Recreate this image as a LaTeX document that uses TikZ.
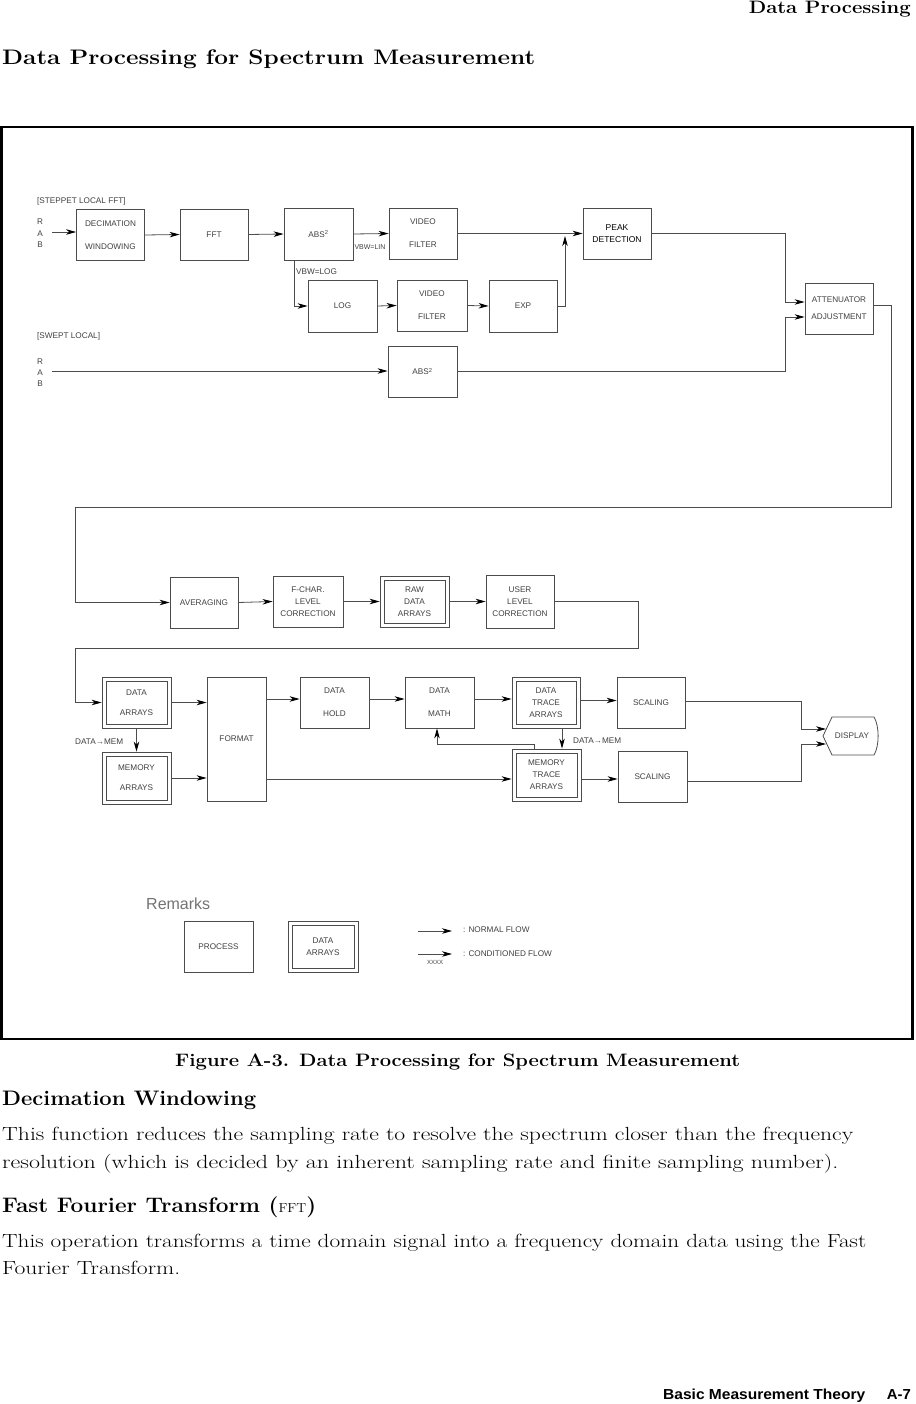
\documentclass[tikz,border=0pt]{standalone}
\usepackage{fontspec}
\usepackage{graphicx}
\newfontfamily\diagfont{Liberation Sans}
\usetikzlibrary{arrows.meta}
\newcommand\fitw[2]{\resizebox{#1}{\height}{#2}}
\newcommand\dblbox[4][]{%
  \node[pbox,#1] (#2) at (#3) {#4};
  \draw[ln] ([xshift=4.5pt,yshift=-4.5pt]#2.north west) rectangle ([xshift=-4.5pt,yshift=4.5pt]#2.south east);}
\begin{document}
\begin{tikzpicture}[x=1pt,y=-1pt,
  ln/.style={draw=black!70, line width=0.8pt},
  arr/.style={ln, -{Stealth[length=10pt,width=5.5pt,inset=3pt,color=black]}},
  lbl/.style={inner sep=0pt, font=\diagfont\fontsize{8.2}{12}\selectfont, text=black!75},
  pbox/.style={draw=black!70, line width=0.8pt, minimum width=68pt, minimum height=51pt,
    inner sep=0pt, align=center, font=\diagfont\fontsize{8.2}{12}\selectfont, text=black!75},
  txt/.style={anchor=base west, inner sep=0pt}
]
\useasboundingbox (0,0) rectangle (915,1404);

% ---------- page texts ----------
\node[anchor=base east, inner sep=0pt] (hdr) at (911,14) {\fitw{162pt}{\fontsize{18}{20}\selectfont\bfseries Data Processing}};
\node[txt] (title) at (2,65) {\fitw{533pt}{\fontsize{21}{24}\selectfont\bfseries Data Processing for Spectrum Measurement}};
\node[txt] (cap) at (175,1066) {\fitw{565pt}{\fontsize{18}{20}\selectfont\bfseries Figure A-3. Data Processing for Spectrum Measurement}};
\node[txt] (h1) at (2,1105) {\fitw{254pt}{\fontsize{21}{24}\selectfont\bfseries Decimation Windowing}};
\node[txt] (b1) at (2,1140) {\fitw{851pt}{\fontsize{19}{22}\selectfont This function reduces the sampling rate to resolve the spectrum closer than the frequency}};
\node[txt] (b2) at (2,1168) {\fitw{836pt}{\fontsize{19}{22}\selectfont resolution (which is decided by an inherent sampling rate and finite sampling number).}};
\node[txt] (h2) at (2,1212) {\fitw{314pt}{\fontsize{21}{24}\selectfont{\bfseries Fast Fourier Transform (}{\fontsize{13}{14}\selectfont FFT}{\bfseries )}}};
\node[txt] (b3) at (2,1247) {\fitw{864pt}{\fontsize{19}{22}\selectfont This operation transforms a time domain signal into a frequency domain data using the Fast}};
\node[txt] (b4) at (2,1274) {\fitw{178pt}{\fontsize{19}{22}\selectfont Fourier Transform.}};
\node[txt] (ft1) at (663,1399) {\fitw{202pt}{\diagfont\fontsize{14.5}{16}\selectfont\bfseries Basic Measurement Theory}};
\node[anchor=base east, inner sep=0pt] (ft2) at (911,1399) {\fitw{24pt}{\diagfont\fontsize{14.5}{16}\selectfont\bfseries A-7}};

% ---------- frame ----------
\draw[line width=2.5pt] (1.25,127) rectangle (912.5,1039);

% ---------- top section ----------
\node[lbl, anchor=west] (lstep) at (37,201) {[STEPPET LOCAL FFT]};
\node[lbl] (r1) at (40,222) {R};
\node[lbl] (a1) at (40,234) {A};
\node[lbl] (b1l) at (40,245) {B};
\node[lbl, anchor=west] (lswept) at (37,336) {[SWEPT LOCAL]};
\node[lbl] (r2) at (40,362) {R};
\node[lbl] (a2) at (40,373) {A};
\node[lbl] (b2l) at (40,384) {B};

\node[pbox] (dec) at (110.5,235) {DECIMATION\\[11pt]WINDOWING};
\node[pbox] (fft) at (214,234.5) {FFT};
\node[pbox, minimum width=69pt, minimum height=52pt] (abs) at (318.5,234) {ABS\textsuperscript{2}};
\node[pbox] (vid1) at (423,233.5) {VIDEO\\[11pt]FILTER};
\node[pbox, minimum width=69pt, minimum height=52pt] (log) at (342.5,306) {LOG};
\node[pbox, minimum width=70pt] (vid2) at (432,305.5) {VIDEO\\[11pt]FILTER};
\node[pbox, minimum height=52pt] (exp) at (523,306) {EXP};
\node[pbox, text=black, font=\diagfont\fontsize{8.5}{12}\selectfont] (peak) at (617,233.5) {PEAK\\DETECTION};
\node[pbox] (att) at (839,308.5) {ATTENUATOR\\[5pt]ADJUSTMENT};
\node[pbox, minimum width=69pt] (abs2) at (422.5,371.5) {ABS\textsuperscript{2}};

\node[lbl, font=\diagfont\fontsize{7}{10}\selectfont] (vlin) at (370,247) {VBW=LIN};
\node[lbl, anchor=west] (vlog) at (296,272) {VBW=LOG};

\coordinate (inA) at (52,232);
\coordinate (inB) at (52,371);
\coordinate (j3) at (785,232);
\coordinate (j8) at (565,236);
\coordinate (j4) at (891,507);
\coordinate (j5) at (75,507);

\draw[arr] (inA) -- (inA -| dec.west);
\draw[arr] (dec.east) -- (fft.west);
\draw[arr] (fft.east) -- (abs.west);
\draw[arr] (abs.east) -- (vid1.west);
\draw[arr] ([xshift=11pt]abs.south west) |- (log.west);
\draw[arr] (log.east) -- (vid2.west);
\draw[arr] (vid2.east) -- (exp.west);
\draw[arr] (exp.east) -| (j8);
\draw[arr] (vid1.east) -- (peak.west);
\draw[arr] (peak.east) -- (peak.east -| j3) |- ([yshift=6.5pt]att.west);
\draw[arr] (inB) -- (inB -| abs2.west);
\draw[arr] (abs2.east) -- (abs2.east -| j3) |- ([yshift=-8.5pt]att.west);

% ---------- middle section ----------
\node[pbox] (avg) at (204,602.5) {AVERAGING};
\node[pbox, minimum width=70pt] (fch) at (308,601.5) {F-CHAR.\\LEVEL\\CORRECTION};
\dblbox[minimum width=69pt]{raw}{414.5,601.5}{RAW\\DATA\\ARRAYS}
\node[pbox, minimum height=53pt] (user) at (520,601.5) {USER\\LEVEL\\CORRECTION};

\draw[arr] ([yshift=3.5pt]att.east) -| (j4) -- (j5) |- (avg.west);
\draw[arr] (avg.east) -- (fch.west);
\draw[arr] (fch.east) -- (raw.west);
\draw[arr] (raw.east) -- (user.west);

% ---------- bottom section ----------
\dblbox[minimum width=69pt]{darr}{136.5,702.5}{DATA\\[8pt]ARRAYS}
\dblbox[minimum width=69pt, minimum height=52pt]{marr}{136.5,778}{MEMORY\\[8pt]ARRAYS}
\node[pbox, minimum width=59pt, minimum height=124pt] (fmt) at (236.5,739) {FORMAT};
\node[pbox, minimum width=69pt] (dhold) at (334.5,702.5) {DATA\\[11pt]HOLD};
\node[pbox, minimum width=69pt] (dmath) at (439.5,702.5) {DATA\\[11pt]MATH};
\dblbox{dtr}{546,702.5}{DATA\\TRACE\\ARRAYS}
\node[pbox] (sc1) at (651,702.5) {SCALING};
\dblbox[minimum width=69pt, minimum height=52pt]{mtr}{546.5,775}{MEMORY\\TRACE\\ARRAYS}
\node[pbox, minimum width=69pt] (sc2) at (652.5,776.5) {SCALING};

\draw[ln] (832,717) -- (874,717) .. controls (879.5,726) and (879.5,746) .. (874,755) -- (832,755) .. controls (828,746) .. (823,736) .. controls (828,726) .. (832,717) -- cycle;
\node[lbl] (disp) at (852,736) {DISPLAY};

\node[lbl, anchor=west] (dm1) at (75,742) {DATA→MEM};
\node[lbl, anchor=west] (dm2) at (573,741) {DATA→MEM};

\coordinate (j6) at (638,648);
\coordinate (j7) at (75,648);
\coordinate (fb) at (437,744);
\coordinate (j1) at (801,701);
\coordinate (j2) at (801,781);
\coordinate (din1) at (826,729);
\coordinate (din2) at (826,744);

\draw[arr] (user.east) -| (j6) -- (j7) |- (darr.west);
\draw[arr] (darr.east) -- (darr.east -| fmt.west);
\draw[arr] (marr.east) -- (marr.east -| fmt.west);
\draw[arr] (darr.south) -- (marr.north);
\draw[arr] ([yshift=3.5pt]dhold.west -| fmt.east) -- ([yshift=3.5pt]dhold.west);
\draw[arr] ([yshift=3.5pt]dhold.east) -- ([yshift=3.5pt]dmath.west);
\draw[arr] ([yshift=3.5pt]dmath.east) -- ([yshift=3.5pt]dmath.east -| dtr.west);
\draw[arr] ([yshift=-4pt]mtr.west -| fmt.east) -- ([yshift=-4pt]mtr.west);
\draw[arr] ([xshift=16pt]dtr.south) -- ([xshift=16pt]dtr.south |- mtr.north);
\draw[arr] ([xshift=-12.5pt]mtr.north) |- (fb) -- (fb |- dmath.south);
\draw[arr] ([yshift=2pt]dtr.east) -- ([yshift=2pt]sc1.west);
\draw[arr] ([yshift=-4pt]mtr.east) -- ([yshift=-4pt]mtr.east -| sc2.west);
\draw[arr] ([yshift=1.5pt]sc1.east) -- (j1) |- (din1);
\draw[arr] ([yshift=-4.5pt]sc2.east) -- (j2) |- (din2);

% ---------- remarks ----------
\node[anchor=west, inner sep=0pt, font=\diagfont\fontsize{16}{16}\selectfont, text=black!55] (rem) at (146,904) {Remarks};
\node[pbox, minimum width=69pt] (proc) at (218.5,946.5) {PROCESS};
\dblbox[minimum width=70pt]{rarr}{323,946.5}{DATA\\ARRAYS}
\coordinate (nf1) at (418,931);
\coordinate (nf2) at (452,931);
\coordinate (cf1) at (418,954);
\coordinate (cf2) at (452,954);
\draw[arr] (nf1) -- (nf2);
\draw[arr] (cf1) -- (cf2);
\node[lbl, font=\diagfont\fontsize{6}{8}\selectfont] (xx) at (435,962) {XXXX};
\node[lbl, anchor=west] (nfl) at (463,930) {: NORMAL FLOW};
\node[lbl, anchor=west] (cfl) at (463,954) {: CONDITIONED FLOW};
\end{tikzpicture}
\end{document}
